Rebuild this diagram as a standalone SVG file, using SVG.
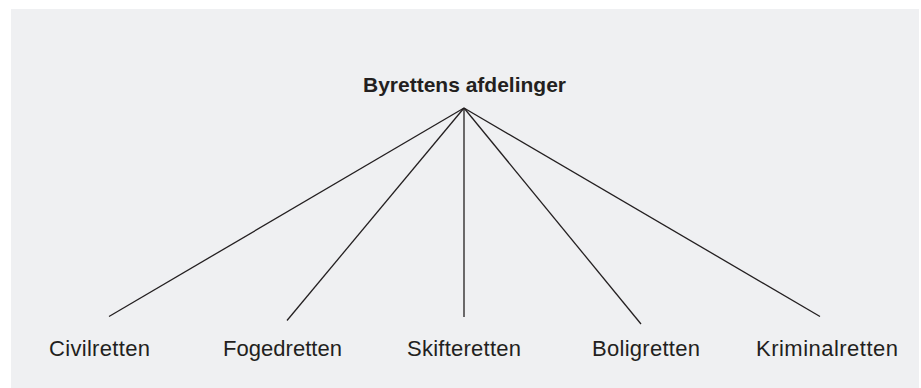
<svg xmlns="http://www.w3.org/2000/svg" width="921" height="388" viewBox="0 0 921 388">
<style>
.bg{fill:#eff0f2}
.lbl{font-family:"Liberation Sans",Arial,sans-serif;font-size:22px;fill:#231f20;text-anchor:middle}
.title{font-weight:bold;font-size:21px}
.conn line{stroke:#231f20;stroke-width:1.3;fill:none}
</style>
<rect class="bg" x="11" y="9" width="908" height="379"/>
<g id="root"><text class="lbl title" x="464.5" y="92">Byrettens afdelinger</text></g>
<g id="connectors" class="conn">
<line x1="464" y1="108" x2="109" y2="316.5"/>
<line x1="464" y1="108" x2="287" y2="320.5"/>
<line x1="464" y1="108" x2="464" y2="317"/>
<line x1="464" y1="108" x2="641" y2="324"/>
<line x1="464" y1="108" x2="820" y2="316.5"/>
</g>
<g id="civilretten"><text class="lbl" x="99.5" y="356" textLength="101" lengthAdjust="spacing">Civilretten</text></g>
<g id="fogedretten"><text class="lbl" x="282.5" y="356" textLength="119" lengthAdjust="spacing">Fogedretten</text></g>
<g id="skifteretten"><text class="lbl" x="464" y="356" textLength="114" lengthAdjust="spacing">Skifteretten</text></g>
<g id="boligretten"><text class="lbl" x="646" y="356" textLength="108" lengthAdjust="spacing">Boligretten</text></g>
<g id="kriminalretten"><text class="lbl" x="827" y="356" textLength="142" lengthAdjust="spacing">Kriminalretten</text></g>
</svg>
